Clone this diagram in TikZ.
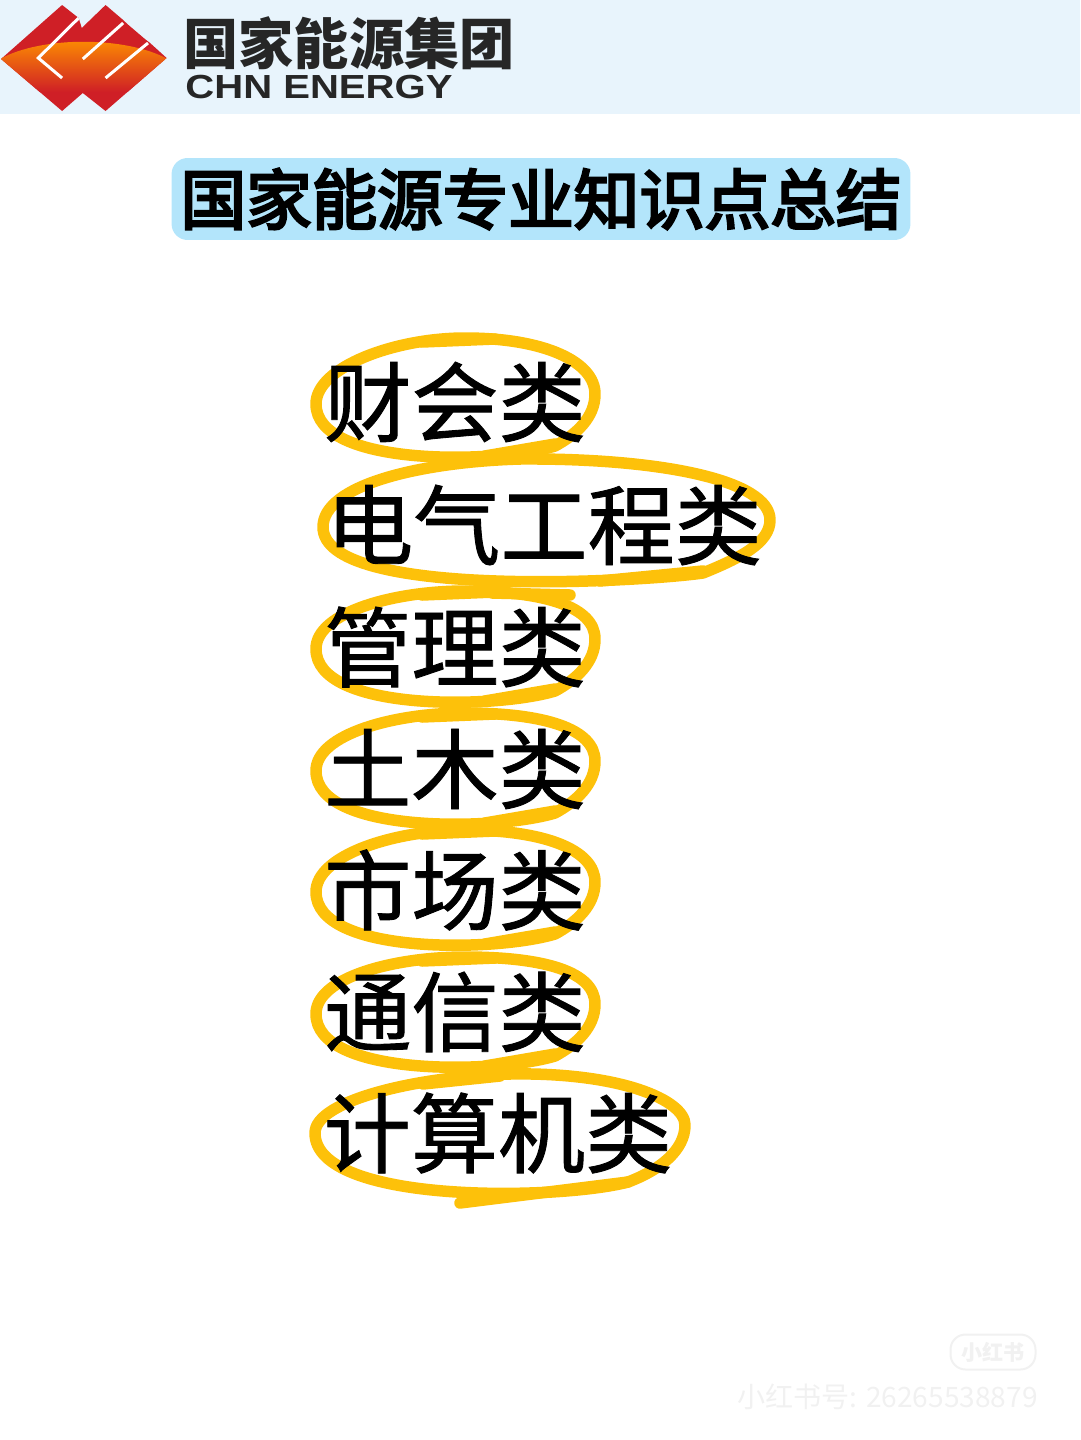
\documentclass[tikz,border=0pt]{standalone}
\usepackage{fontspec}
\usetikzlibrary{backgrounds}
\newfontfamily\cjk{Noto Sans CJK SC}
\newfontfamily\cjkheavy[FakeBold=4]{Noto Sans CJK SC}
\newfontfamily\cjkfirm[FakeBold=1]{Noto Sans CJK SC}
\newfontfamily\latinbold{Liberation Sans}
\definecolor{ringyellow}{HTML}{FDC10A}
\definecolor{bandblue}{HTML}{E8F4FC}
\definecolor{titleblue}{HTML}{B3E5FB}
\definecolor{logored}{HTML}{CF1F26}
\definecolor{logoink}{HTML}{262626}
\definecolor{markgray}{HTML}{F1F1F1}
\tikzstyle{category}=[inner sep=0pt,font=\cjkfirm\fontsize{49.6}{51}\selectfont]
\tikzstyle{ring}=[draw=ringyellow,line width=0.23cm,line cap=round,line join=round]
\tikzstyle{logoline}=[draw=white,line width=0.06cm]
\tikzstyle{markline}=[inner sep=0pt,text=markgray]
\newcommand{\smallring}[2]{
\draw[ring, shift={(#1.center)}] (100, 44) .. controls (40, 62) and (-139, 65) .. (-139, 2) .. controls (-139, -35) and (-60, #2) .. (10, #2) .. controls (90, #2) and (140, -40) .. (140, -8) .. controls (140, 15) and (122, 32) .. (100, 44);
\draw[ring, shift={(#1.center)}] (100, 42) -- (30, 54);
\draw[ring, shift={(#1.center)}] (-33, #2+4) -- (40, #2+1);
}
\begin{document}
\begin{tikzpicture}[x=0.02cm,y=-0.02cm]
\useasboundingbox (0, 0) rectangle (1080, 1440);
\fill[bandblue] (0, 0) rectangle (1080, 114);
% logo
\begin{scope}[xscale=1.035]
\clip (1, 59) -- (60, 5) -- (76, 18) -- (79, 28) -- (102, 5) -- (119, 20) -- (123, 24) -- (140, 39) -- (145, 43) -- (161, 58) -- (102, 111) -- (80, 93) -- (60, 111) -- cycle;
\fill[logored] (0, 0) rectangle (165, 115);
\shade[top color=orange!85!yellow, middle color=orange!70!red, bottom color=logored] (0, 59) .. controls (40, 36) and (121, 36) .. (162, 59) -- (162, 92) -- (0, 92) -- cycle;
\draw[logoline] (76, 18) -- (37, 58) -- (60, 78);
\draw[logoline] (119, 23) -- (80, 59);
\draw[logoline] (143, 43) -- (102, 78);
\end{scope}
\node[inner sep=0pt,text=logoink,font=\cjk\bfseries\fontsize{31.4}{32}\selectfont] at (349, 43) (logoname) {国家能源集团};
\node[inner sep=0pt,text=logoink,xscale=1.2,transform shape,font=\latinbold\bfseries\fontsize{19}{20}\selectfont] at (319, 87) (logoenglish) {CHN ENERGY};
% title
\node[fill=titleblue,rounded corners=0.32cm,minimum width=14.78cm,minimum height=1.64cm,inner sep=0pt,font=\cjkheavy\fontsize{37.3}{38}\selectfont] at (541, 199) (title) {国家能源专业知识点总结};
% labels
\node[category] at (455, 402) (caihui) {财会类};
\node[category] at (544, 525) (dianqi) {电气工程类};
\node[category] at (455, 647) (guanli) {管理类};
\node[category] at (455, 769) (tumu) {土木类};
\node[category] at (455, 890) (shichang) {市场类};
\node[category] at (455, 1012) (tongxin) {通信类};
\node[category] at (498, 1133) (jisuanji) {计算机类};
\begin{pgfonlayer}{background}
\smallring{caihui}{-64}
\draw[ring] (703, 573) .. controls (640, 582) and (323, 600) .. (323, 527) .. controls (323, 485) and (420, 462) .. (520, 459) .. controls (660, 458) and (770, 480) .. (770, 520) .. controls (770, 543) and (740, 558) .. (703, 573);
\draw[ring] (703, 571) -- (600, 581);
\smallring{guanli}{-56}
\draw[ring] (492, 593) -- (570, 595);
\smallring{tumu}{-56}
\smallring{shichang}{-60}
\smallring{tongxin}{-55}
\draw[ring] (628, 1182) .. controls (560, 1200) and (315, 1205) .. (315, 1133) .. controls (315, 1100) and (420, 1076) .. (510, 1074) .. controls (620, 1072) and (685, 1100) .. (685, 1125) .. controls (685, 1150) and (660, 1170) .. (628, 1182);
\draw[ring] (460, 1203) -- (628, 1182);
\draw[ring] (423, 1084) -- (500, 1076);
\end{pgfonlayer}
% watermark
\node[draw=markgray,fill=white,rounded corners=0.3cm,minimum width=1.7cm,minimum height=0.7cm,inner sep=0pt,line width=0.04cm,text=markgray,font=\cjk\bfseries\fontsize{12}{13}\selectfont] at (993, 1352) (badge) {小红书};
\node[markline,font=\cjk\fontsize{16}{17}\selectfont,anchor=east] at (1038, 1397) (account) {小红书号: 26265538879};
\end{tikzpicture}
\end{document}
